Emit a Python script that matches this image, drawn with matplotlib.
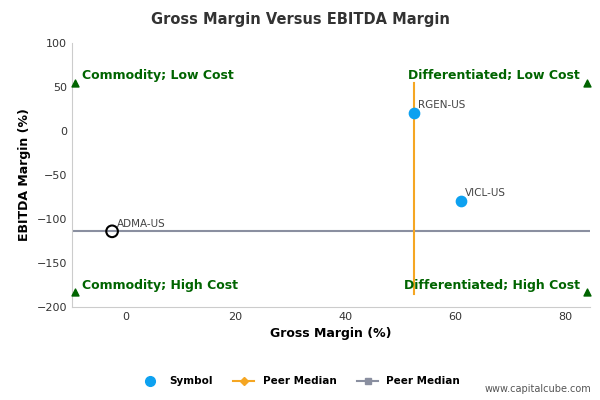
import matplotlib
matplotlib.use("Agg")
import matplotlib.pyplot as plt
from matplotlib.lines import Line2D

symbols = ["RGEN-US", "VICL-US", "ADMA-US"]
gross = [52.5, 61.0, -2.5]
ebitda = [21.0, -79.0, -114.0]
peer_gross_median = 52.5
peer_ebitda_median = -114.0
quad_labels = ["Commodity; Low Cost", "Differentiated; Low Cost",
               "Commodity; High Cost", "Differentiated; High Cost"]
xlim = (-9.8, 84.5)
ylim = (-200, 100)

fig = plt.figure(figsize=(6, 4), dpi=100)
ax = fig.add_axes([0.12, 0.2325, 0.863, 0.66])
ax.set_xlim(*xlim); ax.set_ylim(*ylim)
for s in ["top", "right"]:
    ax.spines[s].set_visible(False)
ax.spines["left"].set_color("#cccccc")
ax.spines["bottom"].set_color("#cccccc")
ax.tick_params(colors="#333333", labelsize=8, length=0)
ax.set_xticks([0, 20, 40, 60, 80]); ax.set_yticks([-200, -150, -100, -50, 0, 50, 100])

ax.axhline(peer_ebitda_median, color="#8a8fa0", lw=1.5, zorder=2)
ax.plot([peer_gross_median, peer_gross_median], [55, -185], color="#f5a623", lw=1.5, zorder=2)

for s, g, e in zip(symbols, gross, ebitda):
    if s == "ADMA-US":
        ax.scatter(g, e, s=70, facecolor="none", edgecolor="black", lw=1.5, zorder=4)
    else:
        ax.scatter(g, e, s=55, color="#0da1f0", zorder=4)
    ax.text(g + 0.8, e + 5, s, fontsize=7.5, color="#444444")

tx = [xlim[0] + 0.6, xlim[1] - 0.5]
ty = [55, -183]
green = "#006400"
ax.scatter([tx[0], tx[1], tx[0], tx[1]], [ty[0], ty[0], ty[1], ty[1]], marker="^", color=green, s=25, zorder=5, clip_on=False)
ax.text(tx[0] + 1.3, 59, quad_labels[0], color=green, fontsize=9, fontweight="bold")
ax.text(tx[1] - 1.3, 59, quad_labels[1], color=green, fontsize=9, fontweight="bold", ha="right")
ax.text(tx[0] + 1.3, -179, quad_labels[2], color=green, fontsize=9, fontweight="bold")
ax.text(tx[1] - 1.3, -179, quad_labels[3], color=green, fontsize=9, fontweight="bold", ha="right")

ax.set_xlabel("Gross Margin (%)", fontsize=9, fontweight="bold")
ax.set_ylabel("EBITDA Margin (%)", fontsize=9, fontweight="bold")
fig.suptitle("Gross Margin Versus EBITDA Margin", y=0.97, fontsize=10.5, fontweight="bold", color="#333333")

handles = [Line2D([], [], marker="o", color="#0da1f0", ls="none", ms=7),
           Line2D([], [], marker="D", color="#f5a623", ms=4),
           Line2D([], [], marker="s", color="#8a8fa0", ms=5)]
fig.legend(handles, ["Symbol", "Peer Median", "Peer Median"], loc="center", bbox_to_anchor=(0.5, 0.047),
           ncol=3, frameon=False, prop={"size": 7.5, "weight": "bold"})
fig.text(0.985, 0.02, "www.capitalcube.com", ha="right", fontsize=7, color="#555555")
fig.savefig("out.png", dpi=100)
